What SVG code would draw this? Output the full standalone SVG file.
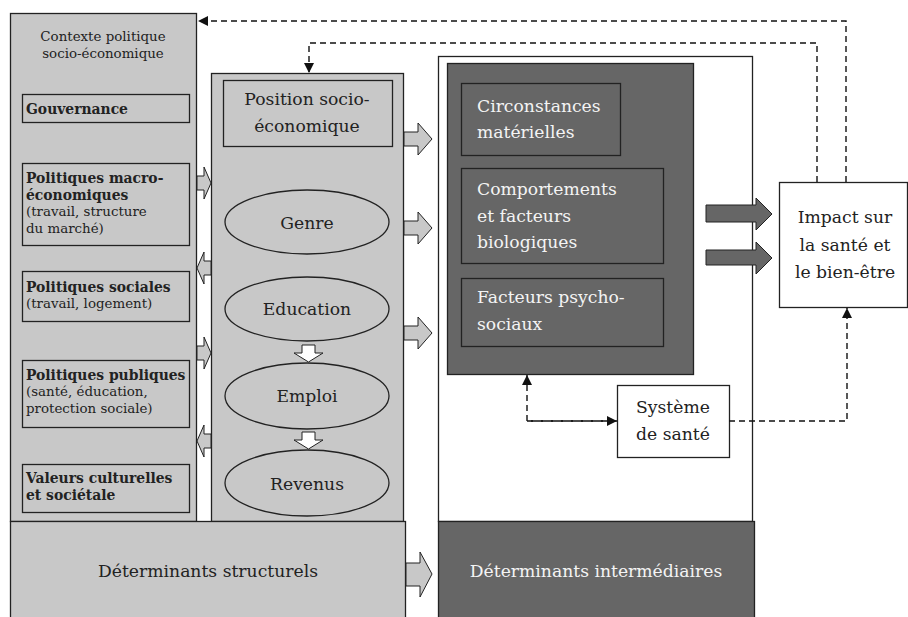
<svg xmlns="http://www.w3.org/2000/svg" width="908" height="617" viewBox="0 0 908 617">
<defs>
<style>
.lg{fill:#c8c8c8;stroke:#222;stroke-width:1.3}
.dk{fill:#666;stroke:#222;stroke-width:1.3}
.wh{fill:#fff;stroke:#222;stroke-width:1.3}
.t{font-family:"DejaVu Serif","Liberation Serif",serif;fill:#222}
.s13{font-size:13.4px}
.s16{font-size:17.2px}
.b{font-weight:bold;font-size:13.9px}
.c{text-anchor:middle}
.w{fill:#f4f4f4}
.dash{fill:none;stroke:#111;stroke-width:1.4;stroke-dasharray:6,4}
.ba{fill:#c8c8c8;stroke:#222;stroke-width:1}
</style>
<marker id="ah" viewBox="0 0 10 10" refX="10" refY="5" markerWidth="10" markerHeight="10" markerUnits="userSpaceOnUse" orient="auto"><path d="M0,0L10,5L0,10z" fill="#111"/></marker>
</defs>
<rect width="908" height="617" fill="#fff"/>
<g id="contexte">
<rect class="lg" x="10.5" y="13.5" width="186" height="508"/>
<text class="t s13 c" x="103" y="41">Contexte politique</text>
<text class="t s13 c" x="103" y="58">socio-économique</text>
</g>
<g id="gouvernance"><rect class="lg" x="22.5" y="94.5" width="167" height="28"/><text class="t s13 b" x="26" y="114">Gouvernance</text></g>
<g id="macro"><rect class="lg" x="22.5" y="163.5" width="167" height="82"/>
<text class="t s13 b" x="26" y="183">Politiques macro-</text>
<text class="t s13 b" x="26" y="200">économiques</text>
<text class="t s13" x="26" y="216">(travail, structure</text>
<text class="t s13" x="26" y="233">du marché)</text></g>
<g id="sociales"><rect class="lg" x="22.5" y="271.5" width="167" height="50"/>
<text class="t s13 b" x="26" y="292">Politiques sociales</text>
<text class="t s13" x="26" y="308">(travail, logement)</text></g>
<g id="publiques"><rect class="lg" x="22.5" y="360.5" width="167" height="67"/>
<text class="t s13 b" x="26" y="380">Politiques publiques</text>
<text class="t s13" x="26" y="396">(santé, éducation,</text>
<text class="t s13" x="26" y="413">protection sociale)</text></g>
<g id="valeurs"><rect class="lg" x="22.5" y="464.5" width="167" height="48"/>
<text class="t s13 b" x="26" y="483">Valeurs culturelles</text>
<text class="t s13 b" x="26" y="500">et sociétale</text></g>
<g id="position-col">
<rect class="lg" x="211.5" y="73.5" width="192" height="448"/>
<rect class="lg" x="223.5" y="80.5" width="169" height="66"/>
<text class="t s16 c" x="307" y="105">Position socio-</text>
<text class="t s16 c" x="307" y="132">économique</text>
</g>
<g id="genre"><ellipse class="lg" cx="307" cy="222" rx="82" ry="32"/><text class="t s16 c" x="307" y="229">Genre</text></g>
<g id="education"><ellipse class="lg" cx="307" cy="309" rx="82" ry="32"/><text class="t s16 c" x="307" y="315">Education</text></g>
<g id="emploi"><ellipse class="lg" cx="307" cy="396" rx="82" ry="33"/><text class="t s16 c" x="307" y="402">Emploi</text></g>
<g id="revenus"><ellipse class="lg" cx="307" cy="483" rx="82" ry="33"/><text class="t s16 c" x="307" y="490">Revenus</text></g>
<g id="intermediaire-zone"><rect class="wh" x="438.5" y="56.5" width="314" height="465"/></g>
<g id="intermediaires-box">
<rect class="dk" x="447.5" y="63.5" width="246" height="311"/>
</g>
<g id="circonstances"><rect class="dk" x="461.5" y="83.5" width="159" height="72"/>
<text class="t s16 w" x="477" y="112">Circonstances</text>
<text class="t s16 w" x="477" y="138">matérielles</text></g>
<g id="comportements"><rect class="dk" x="461.5" y="168.5" width="202" height="95"/>
<text class="t s16 w" x="477" y="195">Comportements</text>
<text class="t s16 w" x="477" y="222">et facteurs</text>
<text class="t s16 w" x="477" y="248">biologiques</text></g>
<g id="psychosociaux"><rect class="dk" x="461.5" y="278.5" width="202" height="68"/>
<text class="t s16 w" x="477" y="303">Facteurs psycho-</text>
<text class="t s16 w" x="477" y="330">sociaux</text></g>
<g id="systeme"><rect class="wh" x="617.5" y="385.5" width="112" height="72"/>
<text class="t s16 c" x="673" y="413">Système</text>
<text class="t s16 c" x="673" y="440">de santé</text></g>
<g id="impact"><rect class="wh" x="779.5" y="182.5" width="128" height="125"/>
<text class="t s16 c" x="845" y="223">Impact sur</text>
<text class="t s16 c" x="845" y="251">la santé et</text>
<text class="t s16 c" x="845" y="278">le bien-être</text></g>
<g id="structurels"><rect class="lg" x="10.5" y="521.5" width="395" height="100"/>
<text class="t s16 c" x="208" y="577">Déterminants structurels</text></g>
<g id="intermediaires"><rect class="dk" x="438.5" y="521.5" width="316" height="100"/>
<text class="t s16 c w" x="596" y="577">Déterminants intermédiaires</text></g>
<g id="connectors">
<path class="dash" d="M846,182V21H198" marker-end="url(#ah)"/>
<path class="dash" d="M817,182V43H309V73" marker-end="url(#ah)"/>
<path class="dash" d="M617,421H527V375" marker-end="url(#ah)"/>
<path class="dash" d="M527,421H617" marker-end="url(#ah)"/>
<path class="dash" d="M729,421H847V308" marker-end="url(#ah)"/>
<path class="ba" d="M404,132H418V123L432,139L418,155V146H404z"/>
<path class="ba" d="M404,221H418V212L432,228L418,244V235H404z"/>
<path class="ba" d="M404,326H418V317L432,333L418,349V340H404z"/>
<path class="ba" d="M197,176H204V167L211,183L204,199V190H197z"/>
<path class="ba" d="M211,261H204V252L197,268L204,284V275H211z"/>
<path class="ba" d="M197,346H204V337L211,353L204,369V360H197z"/>
<path class="ba" d="M211,434H204V425L197,441L204,457V448H211z"/>
<path class="ba" d="M406,563H420V552L432,574L420,597V586H406z"/>
<path d="M302,345H315V353H323L308.5,362L294,353H302z" fill="#fff" stroke="#222" stroke-width="1"/>
<path d="M302,432H315V440H323L308.5,449L294,440H302z" fill="#fff" stroke="#222" stroke-width="1"/>
<path d="M706,205H756V198L772,214L756,230V222H706z" fill="#666" stroke="#222" stroke-width="1"/>
<path d="M706,250H756V242L772,258L756,274V265H706z" fill="#666" stroke="#222" stroke-width="1"/>
</g>
</svg>
